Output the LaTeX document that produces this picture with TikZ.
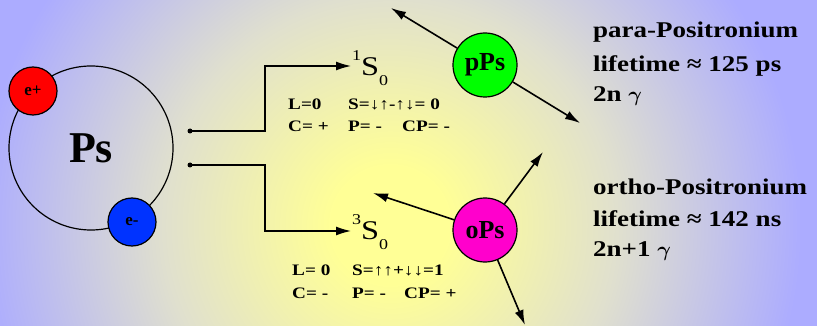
\documentclass[tikz,border=0pt]{standalone}
\usepackage{bm}
\usepackage{fontspec}
\setmainfont{Liberation Serif}
\newfontfamily\widefont{Liberation Serif}[FakeStretch=1.2]
\usetikzlibrary{arrows.meta}
\definecolor{bgout}{RGB}{172,172,255}
\definecolor{bgmid}{RGB}{224,224,206}
\definecolor{bgin}{RGB}{255,255,150}
\definecolor{epos}{RGB}{255,0,0}
\definecolor{eneg}{RGB}{0,51,255}
\definecolor{ppsgreen}{RGB}{0,255,0}
\definecolor{opsmag}{RGB}{255,0,204}
\pgfdeclareradialshading{bgshade}{\pgfpoint{0bp}{0bp}}{%
  color(0bp)=(bgin); color(3.5bp)=(bgin); color(13.5bp)=(bgmid);
  color(24.5bp)=(bgout); color(50bp)=(bgout)}
\tikzset{
 particle/.style={circle, draw=black, line width=1.2pt, minimum size=48pt, inner sep=0pt, font=\bfseries\fontsize{17}{17}\selectfont},
 decay/.style={circle, draw=black, line width=1.2pt, minimum size=64pt, inner sep=0pt, font=\bfseries\fontsize{26}{26}\selectfont},
 tdot/.style={circle, fill=black, minimum size=5pt, inner sep=0pt},
 link/.style={line width=1.4pt, -{Latex[length=15pt,width=9pt]}},
 photon/.style={line width=1.6pt, -{Latex[length=15pt,width=9pt]}},
 prop/.style={anchor=base west, inner sep=0pt, font=\widefont\bfseries\fontsize{16}{16}\selectfont},
 info/.style={anchor=base west, inner sep=0pt, font=\widefont\bfseries\fontsize{22.5}{22.5}\selectfont},
 state/.style={anchor=base west, inner sep=0pt, font=\widefont\fontsize{27}{27}\selectfont},
}
\newcommand{\stlabel}[1]{\raisebox{15pt}{\fontsize{15}{15}\selectfont #1}S\raisebox{-10pt}{\fontsize{15}{15}\selectfont 0}}
\begin{document}
\begin{tikzpicture}[x=1pt,y=-1pt]
\useasboundingbox (0,0) rectangle (817,326);
\begin{scope}
\clip (0,0) rectangle (817,326);
\fill[bgout] (0,0) rectangle (817,326);
\shade[shading=bgshade] (390,225) circle (420pt);
\end{scope}

% positronium atom
\node[circle, draw=black, line width=1.2pt, minimum size=164pt, inner sep=0pt,
      font=\bfseries\fontsize{44}{44}\selectfont] (orbit) at (91,148) {Ps};
\node[particle, fill=epos] (ep) at (33,91) {e+};
\node[particle, fill=eneg] (em) at (132,222) {e-};

% connectors
\node[tdot] (d1) at (190,131) {};
\node[tdot] (d2) at (190,165) {};
\coordinate (k1) at (265,131);
\coordinate (k2) at (265,165);
\coordinate (t1) at (351,66);
\coordinate (t2) at (351,231);
\draw[link] (d1.center) -- (k1) |- (t1);
\draw[link] (d2.center) -- (k2) |- (t2);

% states
\node[state] (s1) at (352,76) {\stlabel{1}};
\node[state] (s3) at (352,239) {\stlabel{3}};

\node[prop] (l1) at (288,110) {L=0};
\node[prop] (sp1) at (348,110) {S=↓↑-↑↓= 0};
\node[prop] (c1) at (288,132) {C= +};
\node[prop] (p1) at (348,132) {P= -};
\node[prop] (cp1) at (402,132) {CP= -};

\node[prop] (l3) at (292,275) {L= 0};
\node[prop] (sp3) at (352,275) {S=↑↑+↓↓=1};
\node[prop] (c3) at (292,298) {C= -};
\node[prop] (p3) at (352,298) {P= -};
\node[prop] (cp3) at (404,298) {CP= +};

% decays
\node[decay, fill=ppsgreen] (pps) at (485,65) {pPs};
\node[decay, fill=opsmag] (ops) at (485,230) {oPs};
\coordinate (g1) at (391,8);
\coordinate (g2) at (580,123);
\coordinate (g3) at (543,152);
\coordinate (g4) at (373,193);
\coordinate (g5) at (525,325);
\draw[photon] (pps) -- (g1);
\draw[photon] (pps) -- (g2);
\draw[photon] (ops) -- (g3);
\draw[photon] (ops) -- (g4);
\draw[photon] (ops) -- (g5);

% info
\node[info] (i1) at (593,38) {para-Positronium};
\node[info] (i2) at (593,72) {lifetime ≈ 125 ps};
\node[info] (i3) at (593,102) {2n $\bm{\gamma}$};
\node[info] (i4) at (593,194) {ortho-Positronium};
\node[info] (i5) at (593,226) {lifetime ≈ 142 ns};
\node[info] (i6) at (593,256) {2n+1 $\bm{\gamma}$};
\end{tikzpicture}
\end{document}
